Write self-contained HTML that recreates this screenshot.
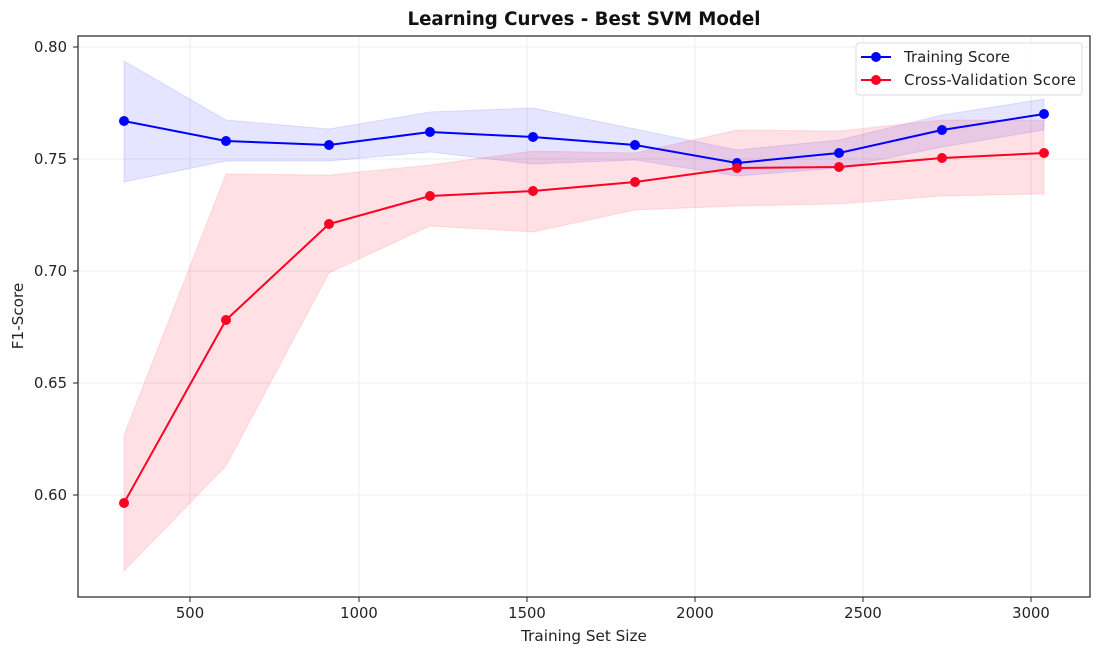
<!DOCTYPE html>
<html><head><meta charset="utf-8"><style>body{margin:0;background:#fff}svg{display:block;font-family:"DejaVu Sans","Liberation Sans",sans-serif}</style></head><body>
<svg width="1100" height="656" xmlns="http://www.w3.org/2000/svg">
<rect width="1100" height="656" fill="#fff"/>
<g stroke="#ececec" stroke-width="1">
<line x1="190" y1="36" x2="190" y2="597"/><line x1="359" y1="36" x2="359" y2="597"/><line x1="527" y1="36" x2="527" y2="597"/><line x1="695" y1="36" x2="695" y2="597"/><line x1="863" y1="36" x2="863" y2="597"/><line x1="1031" y1="36" x2="1031" y2="597"/>
<line x1="78" y1="47" x2="1090" y2="47"/><line x1="78" y1="159" x2="1090" y2="159"/><line x1="78" y1="271" x2="1090" y2="271"/><line x1="78" y1="383" x2="1090" y2="383"/><line x1="78" y1="495" x2="1090" y2="495"/>
</g>
<polygon fill="rgb(0,0,255)" fill-opacity="0.1" stroke="rgb(0,0,255)" stroke-opacity="0.1" points="124,61 226,120 329,129 430,112 533,108 635,129 737,150 839,140 942,115 1044,99 1044,130 942,147 839,168 737,176 635,160 533,164 430,152 329,161 226,161 124,182"/>
<polygon fill="rgb(255,0,40)" fill-opacity="0.12" stroke="rgb(255,0,40)" stroke-opacity="0.1" points="124,435 226,174 329,175 430,165 533,151 635,153 737,130 839,131 942,120 1044,120 1044,194 942,196 839,204 737,206 635,210 533,232 430,226 329,273 226,466 124,571"/>
<polyline fill="none" stroke="#0000ff" stroke-width="2" points="124,121 226,141 329,145 430,132 533,137 635,145 737,163 839,153 942,130 1044,114"/>
<polyline fill="none" stroke="#ff0022" stroke-width="2" points="124,503 226,320 329,224 430,196 533,191 635,182 737,168 839,167 942,158 1044,153"/>
<g fill="#0000ff"><circle cx="124" cy="121" r="5"/><circle cx="226" cy="141" r="5"/><circle cx="329" cy="145" r="5"/><circle cx="430" cy="132" r="5"/><circle cx="533" cy="137" r="5"/><circle cx="635" cy="145" r="5"/><circle cx="737" cy="163" r="5"/><circle cx="839" cy="153" r="5"/><circle cx="942" cy="130" r="5"/><circle cx="1044" cy="114" r="5"/></g>
<g fill="#ff0022"><circle cx="124" cy="503" r="5"/><circle cx="226" cy="320" r="5"/><circle cx="329" cy="224" r="5"/><circle cx="430" cy="196" r="5"/><circle cx="533" cy="191" r="5"/><circle cx="635" cy="182" r="5"/><circle cx="737" cy="168" r="5"/><circle cx="839" cy="167" r="5"/><circle cx="942" cy="158" r="5"/><circle cx="1044" cy="153" r="5"/></g>
<rect x="78" y="36" width="1012" height="561" fill="none" stroke="#222" stroke-width="1.2"/>
<g stroke="#222"><line x1="190" y1="597" x2="190" y2="602"/><line x1="359" y1="597" x2="359" y2="602"/><line x1="527" y1="597" x2="527" y2="602"/><line x1="695" y1="597" x2="695" y2="602"/><line x1="863" y1="597" x2="863" y2="602"/><line x1="1031" y1="597" x2="1031" y2="602"/>
<line x1="73" y1="47" x2="78" y2="47"/><line x1="73" y1="159" x2="78" y2="159"/><line x1="73" y1="271" x2="78" y2="271"/><line x1="73" y1="383" x2="78" y2="383"/><line x1="73" y1="495" x2="78" y2="495"/></g>
<g font-size="14.8" fill="#222" text-anchor="middle"><text x="190" y="618">500</text><text x="359" y="618">1000</text><text x="527" y="618">1500</text><text x="695" y="618">2000</text><text x="863" y="618">2500</text><text x="1031" y="618">3000</text></g>
<g font-size="14.8" fill="#222" text-anchor="end"><text x="67" y="52">0.80</text><text x="67" y="164">0.75</text><text x="67" y="276">0.70</text><text x="67" y="388">0.65</text><text x="67" y="500">0.60</text></g>
<text x="584" y="641" font-size="15.2" fill="#222" text-anchor="middle">Training Set Size</text>
<text transform="translate(23,316) rotate(-90)" font-size="15.2" fill="#222" text-anchor="middle">F1-Score</text>
<text x="584" y="25" font-size="18.2" font-weight="bold" fill="#111" text-anchor="middle">Learning Curves - Best SVM Model</text>
<rect x="856" y="43" width="226" height="52" rx="3" fill="#fff" fill-opacity="0.85" stroke="#ddd"/>
<line x1="861" y1="57" x2="891" y2="57" stroke="#0000ff" stroke-width="2"/><circle cx="876" cy="57" r="5" fill="#0000ff"/>
<line x1="861" y1="80" x2="891" y2="80" stroke="#ff0022" stroke-width="2"/><circle cx="876" cy="80" r="5" fill="#ff0022"/>
<text x="904" y="62" font-size="15" fill="#222">Training Score</text>
<text x="904" y="85" font-size="15" fill="#222" textLength="172">Cross-Validation Score</text>
</svg>
</body></html>
